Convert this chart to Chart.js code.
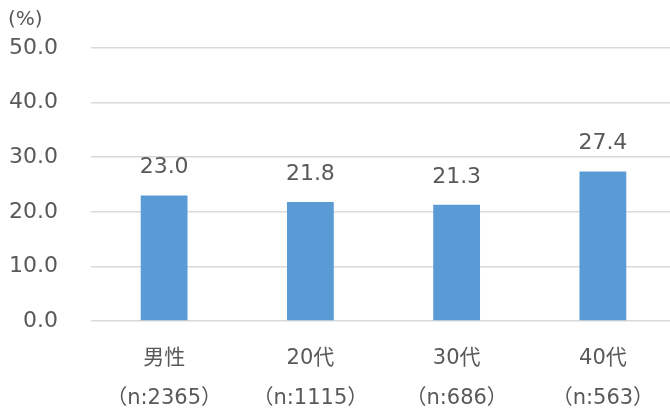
<!DOCTYPE html>
<html>
<head>
<meta charset="utf-8">
<script src="https://cdn.jsdelivr.net/npm/chart.js@4/dist/chart.umd.min.js"></script>
<style>
  html, body { margin: 0; background: #fff; overflow: hidden; }
  #wrap { width: 676px; height: 412px; }
</style>
</head>
<body>
<div id="wrap"><canvas id="myChart"></canvas></div>
<script>
const categories = [['男性', '（n:2365）'], ['20代', '（n:1115）'], ['30代', '（n:686）'], ['40代', '（n:563）']];
const values = [23.0, 21.8, 21.3, 27.4];
const yTicks = [0, 10, 20, 30, 40, 50];

const fontFamily = '"DejaVu Sans", "Noto Sans CJK JP", sans-serif';
const textColor = '#595959';

// values above bars and the (%) unit label
const labelPlugin = {
  id: 'labels',
  afterDatasetsDraw(chart) {
    const c = chart.ctx;
    c.save();
    c.font = '22px ' + fontFamily;
    c.fillStyle = textColor;
    c.textAlign = 'center';
    c.textBaseline = 'alphabetic';
    chart.getDatasetMeta(0).data.forEach((bar, i) => {
      c.fillText(values[i].toFixed(1), bar.x, bar.y - 22);
    });
    c.font = '20px ' + fontFamily;
    c.textAlign = 'left';
    c.textBaseline = 'middle';
    c.fillText('(%)', 8, 20);
    c.restore();
  }
};

const ctx = document.getElementById('myChart');

new Chart(ctx, {
  type: 'bar',
  data: {
    labels: categories,
    datasets: [{
      data: values,
      backgroundColor: '#5B9BD5',
      categoryPercentage: 1,
      barPercentage: 0.32
    }]
  },
  options: {
    responsive: true,
    maintainAspectRatio: false,
    animation: false,
    layout: { padding: { top: 48, right: 0, left: 0, bottom: 0 } },
    plugins: { legend: { display: false }, tooltip: { enabled: false } },
    scales: {
      x: {
        grid: { display: false },
        border: { display: false },
        afterFit(axis) { axis.height = 91; },
        ticks: {
          color: textColor,
          font: { family: fontFamily, size: 21, lineHeight: 1.9 },
          padding: 10,
          maxRotation: 0
        }
      },
      y: {
        min: 0,
        max: 50,
        afterBuildTicks(axis) { axis.ticks = yTicks.map(v => ({ value: v })); },
        afterFit(axis) { axis.width = 91; },
        grid: { color: '#D9D9D9', lineWidth: 1.5, drawTicks: false },
        border: { display: false },
        ticks: {
          color: textColor,
          font: { family: fontFamily, size: 22 },
          padding: 33,
          callback: v => v.toFixed(1)
        }
      }
    }
  },
  plugins: [labelPlugin]
});
</script>
</body>
</html>
